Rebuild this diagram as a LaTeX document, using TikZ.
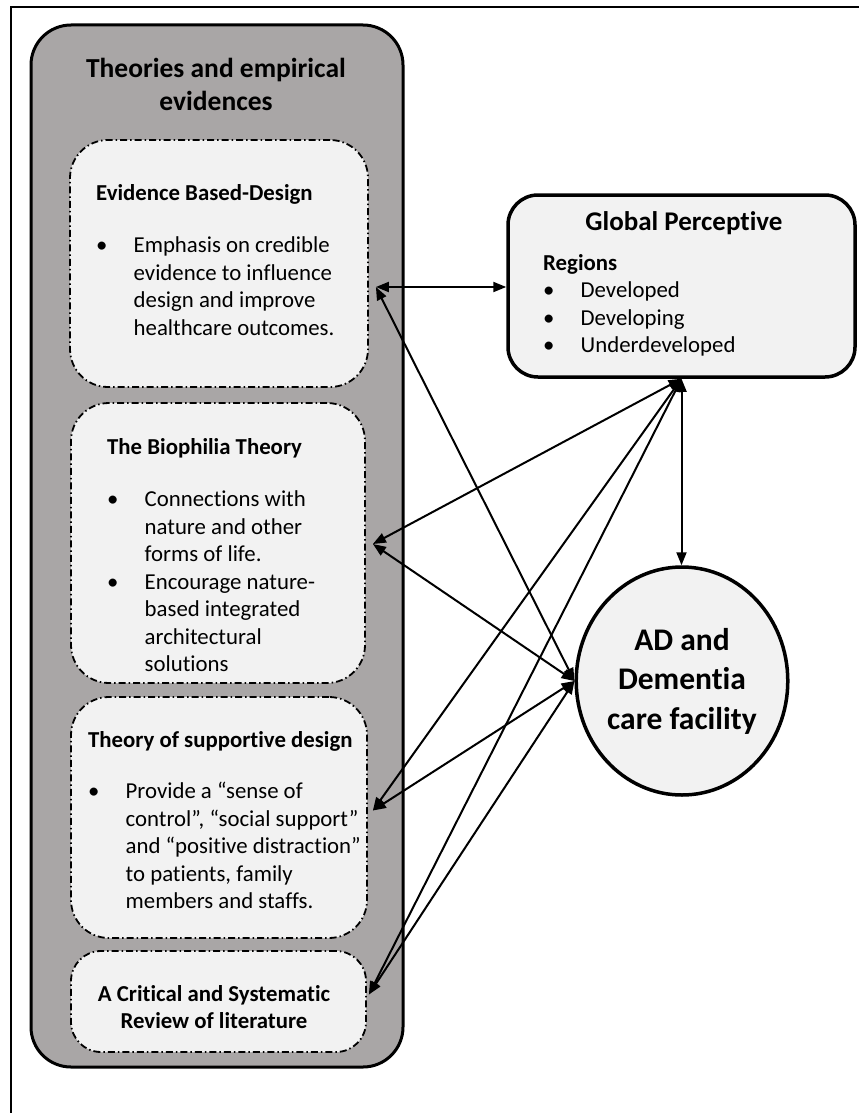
\documentclass[tikz,border=0pt]{standalone}
\usepackage{fontspec}
\setmainfont{Carlito}[Ligatures=NoCommon]
\usetikzlibrary{arrows.meta,positioning,fit,shapes.geometric}

\definecolor{panelgray}{RGB}{169,166,166}
\definecolor{boxfill}{RGB}{242,242,242}

\newcommand{\hd}[1]{{\bfseries\fontsize{22.8}{27.5}\selectfont #1}}
\newcommand{\bul}{\makebox[37.5pt][l]{\textbullet}}
\newcommand{\ind}{\hspace*{37.5pt}}

\begin{document}
\begin{tikzpicture}[
  x=1pt, y=-1pt,
  panel/.style={draw,line width=3pt,rounded corners=40pt,fill=panelgray,inner sep=0pt},
  theory/.style={draw,line width=1.8pt,dash pattern=on 7pt off 3pt on 1.5pt off 3pt,
    rounded corners=38pt,fill=boxfill,inner sep=0pt},
  gbox/.style={draw,line width=3.5pt,rounded corners=30pt,fill=boxfill,inner sep=0pt},
  txt/.style={align=left,inner sep=0pt,anchor=north west,font=\fontsize{22.8}{27.5}\selectfont},
  arrow/.style={{Triangle[length=13pt,width=10pt]}-{Triangle[length=13pt,width=10pt]},line width=2pt}
]
\useasboundingbox (0,0) rectangle (859,1113);
\draw[line width=2pt] (11,1113) -- (11,7) -- (859,7);

\node[panel,fit={(31,25) (403,1067)}] (panel) {};
\node[font=\bfseries\fontsize{27.5}{33}\selectfont,align=center] (title) at (216,84)
  {Theories and empirical\\evidences};

\node[theory,fit={(70,140) (368,387)}] (ebd) {};
\node[theory,fit={(71,403) (365,683)}] (bio) {};
\node[theory,fit={(71,697) (367,938)}] (sup) {};
\node[theory,rounded corners=30pt,fit={(71,951) (366,1052)}] (lit) {};

\node[txt] (ebdtext) at (96,184) {\hd{Evidence Based-Design}\\[25pt]
  \bul Emphasis on credible\\ \ind evidence to influence\\ \ind design and improve\\
  \ind healthcare outcomes.};
\node[txt] (biotext) at (107,438) {\hd{The Biophilia Theory}\\[25pt]
  \bul Connections with\\ \ind nature and other\\ \ind forms of life.\\
  \bul Encourage nature-\\ \ind based integrated\\ \ind architectural\\ \ind solutions};
\node[txt] (suptext) at (88,731) {\hd{Theory of supportive design}\\[24pt]
  \bul Provide a “sense of\\ \ind control”, “social support”\\
  \ind and “positive distraction”\\ \ind to patients, family\\ \ind members and staffs.};
\node[font=\bfseries\fontsize{22.8}{27}\selectfont,align=center] (littext) at (214,1007)
  {A Critical and Systematic\\Review of literature};

\node[gbox,fit={(508,195) (855,377)}] (gp) {};
\node[font=\bfseries\fontsize{27}{32}\selectfont] (gphead) at (684,223) {Global Perceptive};
\node[txt] (gptext) at (543,254) {\hd{Regions}\\
  \bul Developed\\ \bul Developing\\ \bul Underdeveloped};

\node[ellipse,draw,line width=3.5pt,fill=boxfill,minimum width=211pt,minimum height=228pt,
  inner sep=0pt,font=\bfseries\fontsize{31.5}{39.5}\selectfont,align=center] (ad) at (682,681)
  {AD and\\Dementia\\care facility};

\coordinate (ebdport) at ([xshift=7pt,yshift=-23.5pt]ebd.east);
\coordinate (bioport) at ([xshift=7pt,yshift=-1pt]bio.east);
\coordinate (support) at ([xshift=5pt,yshift=7pt]sup.east);
\coordinate (litport) at ([xshift=2pt,yshift=7pt]lit.east);

\draw[arrow] (ebdport) -- (ebdport -| gp.west);
\draw[arrow] (gp.south) -- (gp.south |- ad.north);
\foreach \p in {bioport,support,litport}
  \draw[arrow] (gp.south) -- (\p);
\foreach \p in {ebdport,bioport,support,litport}
  \draw[arrow] (ad.west) -- (\p);
\end{tikzpicture}
\end{document}
